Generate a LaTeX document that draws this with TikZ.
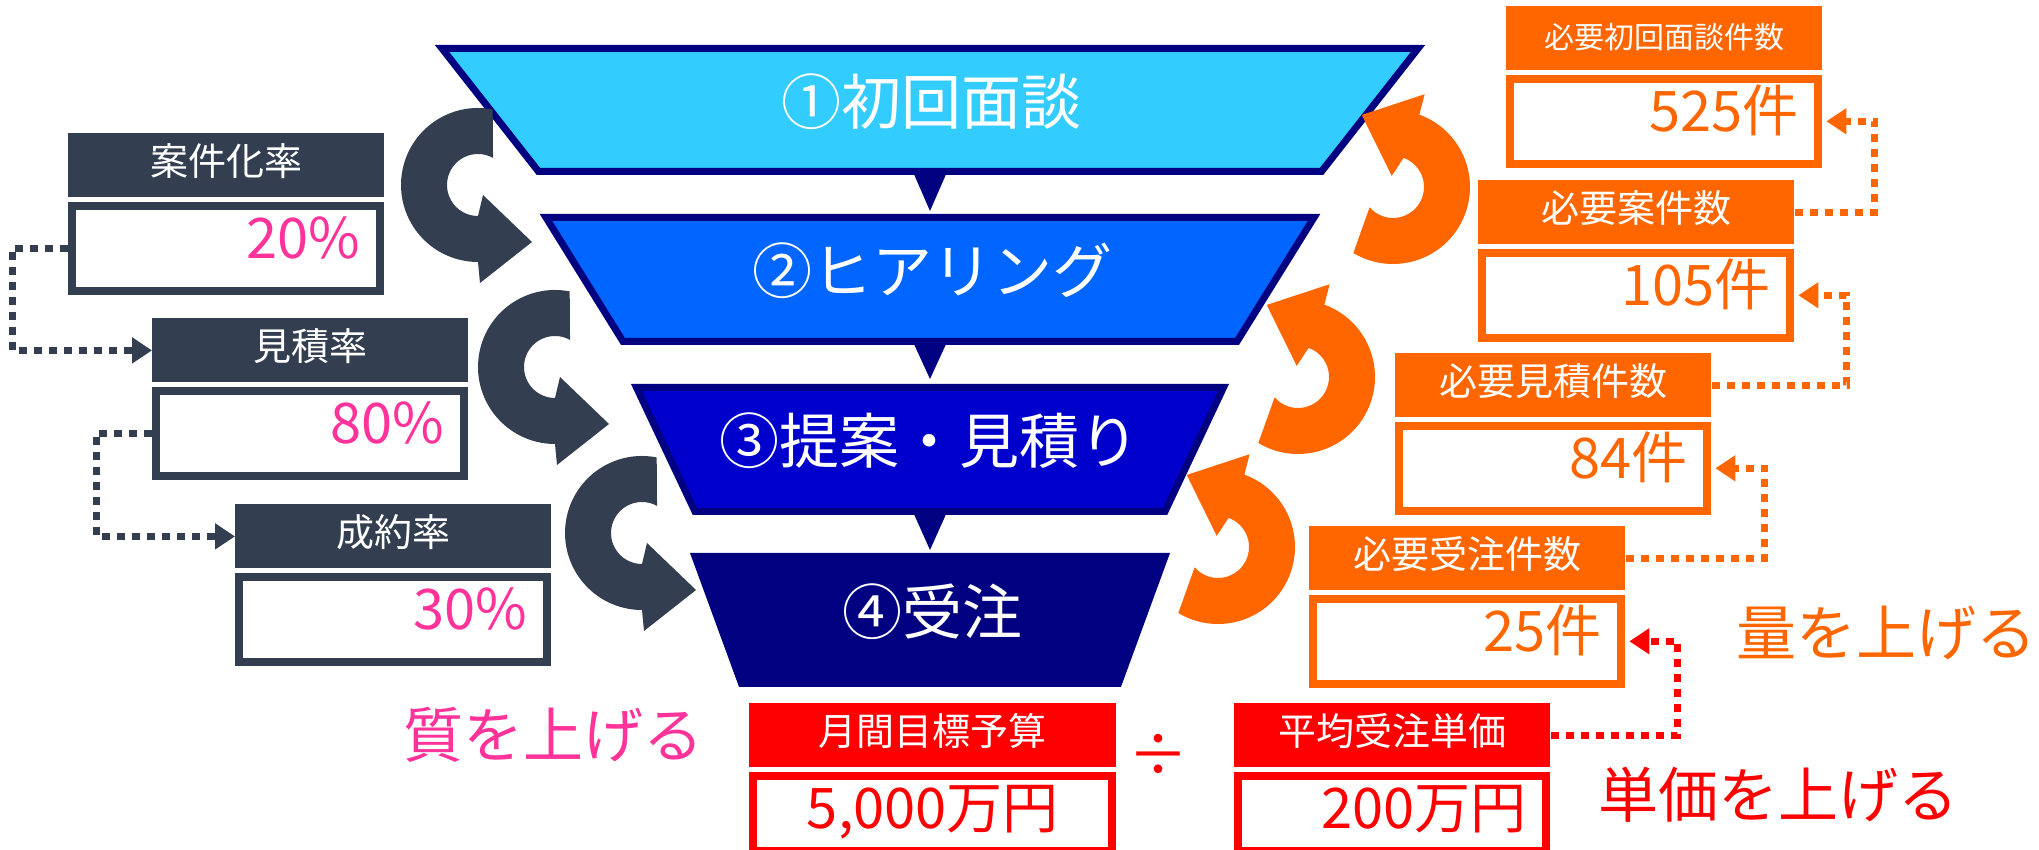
\documentclass[tikz,border=0pt]{standalone}
\usepackage{fontspec}
\setmainfont{Noto Sans CJK JP}
\usetikzlibrary{arrows.meta}
\definecolor{slate}{HTML}{333F50}
\definecolor{pinkc}{HTML}{FF3399}
\definecolor{orangec}{HTML}{FF6600}
\definecolor{redc}{HTML}{FF0000}
\definecolor{navy}{HTML}{000080}
\definecolor{cyanc}{HTML}{33CCFF}
\definecolor{blueb}{HTML}{0066FF}
\definecolor{bluec}{HTML}{0000CC}
\tikzset{
  hdr/.style={rectangle, fill=#1, text=white, minimum width=158pt, minimum height=32pt,
    inner sep=0pt, anchor=north west, font=\fontsize{19pt}{22pt}\selectfont,
    text height=15pt, text depth=4.6pt},
  val/.style={rectangle, fill=white, draw=#1, line width=4pt, minimum width=154pt,
    minimum height=42.5pt, text width=134pt, inner xsep=10pt, inner ysep=0pt, align=right,
    text height=22pt, text depth=11.6pt, font=\fontsize{28pt}{32pt}\selectfont, anchor=north},
  stage/.style={text=white, inner sep=0pt, font=\fontsize{30pt}{34pt}\selectfont},
  big/.style={inner sep=0pt, font=\fontsize{30pt}{34pt}\selectfont},
  conn/.style={draw=#1, line width=3.5pt, dash pattern=on 4pt off 3.5pt,
    -{Triangle[length=10pt,width=12.5pt]}},
  funnel/.style={draw=navy, line width=3.5pt, line join=miter},
  curl/.pic={
    \fill (79:77) arc[start angle=79, end angle=270, radius=77] -- (2,-98) -- (54,-57)
      -- (5,-10) -- (0,-31) arc[start angle=270, end angle=61, radius=31] -- cycle;
  }
}
\begin{document}
\begin{tikzpicture}[x=0.5pt,y=0.5pt]
\fill[white] (0,0) rectangle (2039,850);
\useasboundingbox (0,0) rectangle (2039,850);

% funnel
\filldraw[funnel, fill=cyanc] (442,801.5) -- (1418,801.5) -- (1321.5,678.5) -- (538.5,678.5) -- cycle;
\filldraw[funnel, fill=blueb] (546,632.5) -- (1314,632.5) -- (1237,508.5) -- (623,508.5) -- cycle;
\filldraw[funnel, fill=bluec] (636.5,462.5) -- (1223.5,462.5) -- (1165,338.5) -- (695,338.5) -- cycle;
\filldraw[funnel, fill=navy] (695,293.5) -- (1165,293.5) -- (1118.5,166.5) -- (741.5,166.5) -- cycle;
\fill[navy] (913,678) -- (947,678) -- (930,639) -- cycle;
\fill[navy] (913,508) -- (947,508) -- (930,471) -- cycle;
\fill[navy] (913,338) -- (947,338) -- (930,300) -- cycle;

\node[stage] (s1) at (931,748) {①初回面談};
\node[stage] (s2) at (932,579) {②ヒアリング};
\node[stage] (s3) at (929,409) {③提案・見積り};
\node[stage] (s4) at (932,238) {④受注};

% curved arrows
\pic[color=slate] at (478,665) {curl};
\pic[color=slate] at (555,483) {curl};
\pic[color=slate] at (642,317) {curl};
\pic[color=orangec, rotate=160] at (1393,663) {curl};
\pic[color=orangec, rotate=160] at (1298,473) {curl};
\pic[color=orangec, rotate=160] at (1218,303) {curl};

% left boxes
\node[hdr=slate] (ah) at (68,717) {案件化率};
\node[val=slate, text=pinkc] (av) at ([yshift=-2pt]ah.south) {20\%};
\node[hdr=slate] (bh) at (152,532) {見積率};
\node[val=slate, text=pinkc] (bv) at ([yshift=-2pt]bh.south) {80\%};
\node[hdr=slate] (ch) at (235,346) {成約率};
\node[val=slate, text=pinkc] (cv) at ([yshift=-2pt]ch.south) {30\%};

% right boxes
\node[hdr=orangec, font=\fontsize{15pt}{18pt}\selectfont] (r1h) at (1506,844) {必要初回面談件数};
\node[val=orangec, text=orangec] (r1v) at ([yshift=-2pt]r1h.south) {525件};
\node[hdr=orangec] (r2h) at (1478,670) {必要案件数};
\node[val=orangec, text=orangec] (r2v) at ([yshift=-2pt]r2h.south) {105件};
\node[hdr=orangec] (r3h) at (1395,497) {必要見積件数};
\node[val=orangec, text=orangec] (r3v) at ([yshift=-2pt]r3h.south) {84件};
\node[hdr=orangec] (r4h) at (1309,324) {必要受注件数};
\node[val=orangec, text=orangec] (r4v) at ([yshift=-2pt]r4h.south) {25件};

% bottom boxes
\node[hdr=redc, minimum width=183.5pt] (mh) at (749,147) {月間目標予算};
\node[val=redc, text=redc, minimum width=179.5pt, text width=159.5pt, align=center,
  minimum height=37.5pt, text depth=6.6pt] (mv) at ([yshift=-2pt]mh.south) {5,000万円};
\node[hdr=redc] (uh) at (1234,147) {平均受注単価};
\node[val=redc, text=redc, minimum height=37.5pt, text depth=6.6pt] (uv) at ([yshift=-2pt]uh.south) {200万円};
\node[big, text=redc] (dv) at (1158,95) {÷};

% connectors
\draw[conn=slate] (av.west) -- ++(-28pt,0) |- (bh.west);
\draw[conn=slate] (bv.west) -- ++(-28pt,0) |- (ch.west);
\draw[conn=orangec] (r2h.east) -- ++(40pt,0) |- ([xshift=2pt]r1v.east);
\draw[conn=orangec] (r3h.east) -- ++(67.5pt,0) |- ([xshift=2pt]r2v.east);
\draw[conn=orangec] (r4h.east) -- ++(69.5pt,0) |- ([xshift=2pt]r3v.east);
\draw[conn=redc] (uh.east) -- ++(63.5pt,0) |- ([xshift=2pt]r4v.east);

% labels
\node[big, text=pinkc] (lq) at (553,115) {質を上げる};
\node[big, text=orangec] (lv) at (1886,217) {量を上げる};
\node[big, text=redc] (lp) at (1778,55) {単価を上げる};
\end{tikzpicture}
\end{document}
